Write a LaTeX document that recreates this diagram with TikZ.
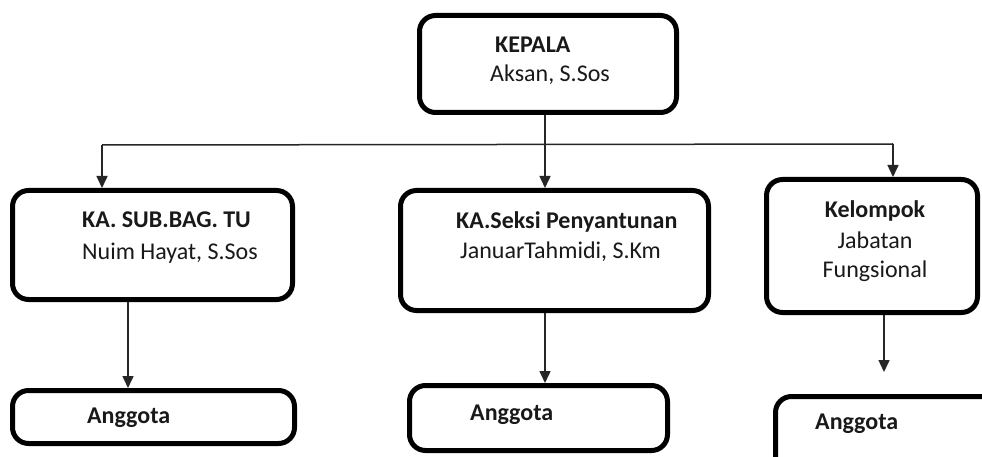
\documentclass[tikz,border=0pt]{standalone}
\usepackage{fontspec}
\setmainfont{Carlito}
\usetikzlibrary{arrows.meta}
\begin{document}
\begin{tikzpicture}[x=1pt,y=-1pt,
  boxnode/.style={draw=black,line width=5pt,rounded corners=16pt,inner sep=0pt,fill=white},
  txt/.style={anchor=base west,inner sep=0pt,font=\fontsize{24}{29}\selectfont,text=black!90},
  txtc/.style={anchor=base,inner sep=0pt,font=\fontsize{24}{29}\selectfont,text=black!90},
  conn/.style={line width=1.5pt,draw=black!85},
  arr/.style={conn,-{Triangle[width=11pt,length=12pt]}}]
\useasboundingbox (0,0) rectangle (982,457);
\clip (0,0) rectangle (982,457);
\fill[white] (0,0) rectangle (982,457);
% boxes
\node[boxnode,minimum width=257pt,minimum height=97pt] (kepala) at (548,64) {};
\node[boxnode,minimum width=280pt,minimum height=109pt] (tu) at (152.5,245) {};
\node[boxnode,minimum width=308pt,minimum height=120pt] (seksi) at (554.5,250.5) {};
\node[boxnode,minimum width=211pt,minimum height=133pt] (kel) at (872,246) {};
\node[boxnode,minimum width=282pt,minimum height=53pt] (ang1) at (153.5,417) {};
\node[boxnode,minimum width=258pt,minimum height=65pt] (ang2) at (538.5,418) {};
\node[boxnode,minimum width=260pt,minimum height=78pt] (ang3) at (905.5,435.5) {};
% texts
\node[txt] (t1) at (495,53) {\bfseries KEPALA};
\node[txt] (t2) at (490,82) {Aksan, S.Sos};
\node[txt] (t3) at (82,227) {\bfseries KA. SUB.BAG. TU};
\node[txt] (t4) at (82,259) {Nuim Hayat, S.Sos};
\node[txt] (t5) at (456,228) {\bfseries KA.Seksi Penyantunan};
\node[txt] (t6) at (460,258) {JanuarTahmidi, S.Km};
\node[txtc] (t7) at (875,218) {\bfseries Kelompok};
\node[txtc] (t8) at (875,248) {Jabatan};
\node[txtc] (t9) at (875,277) {Fungsional};
\node[txt] (t10) at (87,423) {\bfseries Anggota};
\node[txt] (t11) at (470,420) {\bfseries Anggota};
\node[txt] (t12) at (815,429) {\bfseries Anggota};
% connectors
\coordinate (jm) at (545,145);
\coordinate (jl) at (102,145);
\coordinate (jr) at (893,144);
\coordinate (c1) at (128,0);
\coordinate (c3) at (884,372);
\draw[arr] (kepala.south -| jm) -- (seksi.north -| jm);
\draw[conn] (jl) -- (jr);
\draw[arr] (jl) -- (tu.north -| jl);
\draw[arr] (jr) -- (kel.north -| jr);
\draw[arr] (tu.south -| c1) -- (ang1.north -| c1);
\draw[arr] (seksi.south -| jm) -- (ang2.north -| jm);
\draw[arr] (kel.south -| c3) -- (c3);
\end{tikzpicture}
\end{document}
